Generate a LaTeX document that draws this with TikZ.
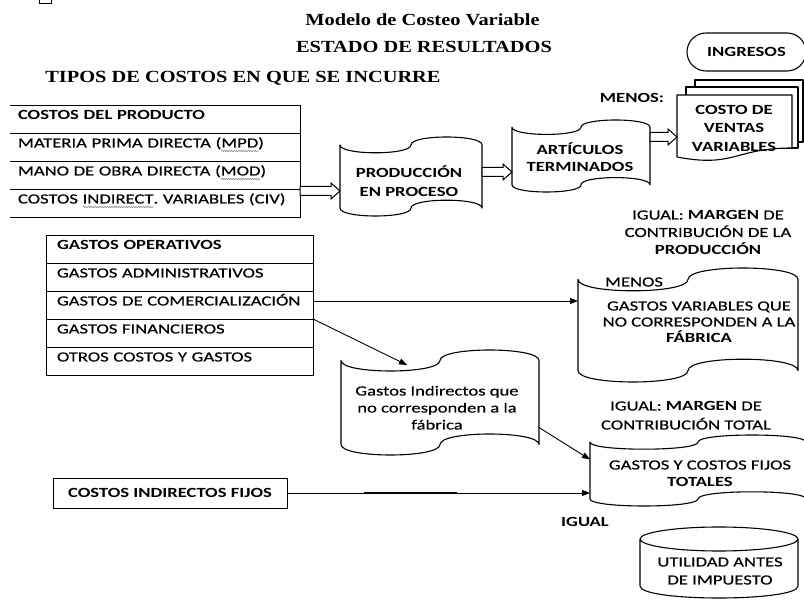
\documentclass[tikz,border=0pt]{standalone}
\usepackage{fontspec}
\setmainfont{Carlito}[FakeStretch=1.33,UprightFeatures={FakeBold=0.4}]
\newfontfamily\headfont{Liberation Serif}[FakeStretch=1.2]
\usetikzlibrary{arrows.meta,calc,decorations.pathmorphing}
\frenchspacing

\tikzset{
  squigline/.style={line width=0.5pt,gray,decorate,
    decoration={snake,amplitude=0.7pt,segment length=2.4pt}}
}

% wavy spell-check underline under a word
\newsavebox\sqbox
\newcommand\squig[1]{\sbox\sqbox{#1}\usebox\sqbox\llap{\tikz[overlay,baseline=0pt,x=1pt,y=1pt]\draw[squigline] (0pt,-3.5pt) -- (\the\wd\sqbox,-3.5pt);\hspace*{\wd\sqbox}}}

\newcommand\fs[1]{\fontsize{14}{#1}\selectfont}

% punched-tape outline around a named frame node
\newcommand\tapeframe[1]{%
  \draw[outline] let \p1=(#1.north west), \p2=(#1.south east),
      \n1={0.5*(\x1+\x2)}, \n2={0.1*(\y1-\y2)}, \n3={0.1333*(\y1-\y2)} in
    (\x1,{\y1-\n2*1pt})
      .. controls (\x1,{\y1-\n2*1pt-\n3*1pt}) and ({\n1*1pt},{\y1-\n2*1pt-\n3*1pt}) .. ({\n1*1pt},{\y1-\n2*1pt})
      .. controls ({\n1*1pt},{\y1-\n2*1pt+\n3*1pt}) and (\x2,{\y1-\n2*1pt+\n3*1pt}) .. (\x2,{\y1-\n2*1pt})
    -- (\x2,{\y2+\n2*1pt})
      .. controls (\x2,{\y2+\n2*1pt+\n3*1pt}) and ({\n1*1pt},{\y2+\n2*1pt+\n3*1pt}) .. ({\n1*1pt},{\y2+\n2*1pt})
      .. controls ({\n1*1pt},{\y2+\n2*1pt-\n3*1pt}) and (\x1,{\y2+\n2*1pt-\n3*1pt}) .. (\x1,{\y2+\n2*1pt})
    -- cycle;}

% block arrow from the x of #1 to the point #2
\newcommand\hollowarrow[2]{%
  \draw[hollow] let \p1=#1, \p2=#2 in
    (\x1,{\y2+4.5pt}) -- ({\x2-9pt},{\y2+4.5pt}) -- ({\x2-9pt},{\y2+8pt}) -- (\x2,\y2)
    -- ({\x2-9pt},{\y2-8pt}) -- ({\x2-9pt},{\y2-4.5pt}) -- (\x1,{\y2-4.5pt}) -- cycle;}

\begin{document}
\begin{tikzpicture}[x=1pt,y=-1pt,
  outline/.style={line width=1.1pt,line join=round},
  tline/.style={line width=0.9pt},
  hollow/.style={line width=1pt,line join=miter,fill=white},
  arr/.style={line width=0.9pt,-{Triangle[length=8pt,width=6pt]}},
  frame/.style={draw=none,inner sep=0pt,outer sep=0pt},
  title/.style={font=\headfont\bfseries\fontsize{17}{20}\selectfont,inner sep=0pt,anchor=base},
  txt/.style={align=center,inner sep=0pt,anchor=base},
  row1/.style={anchor=north west,text width=274pt,inner xsep=8pt,inner ysep=0pt,outer sep=0pt,
    minimum height=28pt,text height=9pt,text depth=8pt,align=left,font=\fs{17}},
  row2/.style={row1,draw,tline,text width=245pt,inner xsep=11pt}]

\fill[white] (0,0) rectangle (804,601);
\useasboundingbox (0,0) rectangle (804,601);

% small mark in the corner
\draw[line width=0.8pt] (39,0) -- (39,3.5) -- (51,3.5) -- (51,0);

% headings
\node[title] (t1) at (422.5,25.5) {Modelo de Costeo Variable};
\node[title] (t2) at (424,52.5) {ESTADO DE RESULTADOS};
\node[title] (t3) at (243,82.5) {TIPOS DE COSTOS EN QUE SE INCURRE};

% product costs
\node[row1] (p0) at (10,105) {\mbox{\bfseries COSTOS DEL PRODUCTO}};
\node[row1] (p1) at (p0.south west) {\mbox{MATERIA PRIMA DIRECTA (\squig{MPD})}};
\node[row1] (p2) at (p1.south west) {\mbox{MANO DE OBRA DIRECTA (\squig{MOD})}};
\node[row1] (p3) at (p2.south west) {\mbox{COSTOS \squig{INDIRECT}. VARIABLES (CIV)}};
\draw[tline] (p0.north west) -- (p0.north east) -- (p3.south east) -- (p3.south west);
\foreach \r in {p0,p1,p2} \draw[tline] (\r.south west) -- (\r.south east);

% operating expenses
\node[row2] (g0) at (46,235) {\mbox{\bfseries GASTOS OPERATIVOS}};
\node[row2] (g1) at (g0.south west) {\mbox{GASTOS ADMINISTRATIVOS}};
\node[row2] (g2) at (g1.south west) {\mbox{GASTOS DE COMERCIALIZACIÓN}};
\node[row2] (g3) at (g2.south west) {\mbox{GASTOS FINANCIEROS}};
\node[row2] (g4) at (g3.south west) {\mbox{OTROS COSTOS Y GASTOS}};

% fixed overhead
\node[draw,tline,inner sep=0pt,outer sep=0pt,minimum width=234pt,minimum height=30pt,
  font=\bfseries\fs{17}] (cif) at (170,493) {COSTOS INDIRECTOS FIJOS};

% flowchart frames
\node[frame,minimum width=142pt,minimum height=79pt] (prod) at (411,176.5) {};
\node[frame,minimum width=138pt,minimum height=72pt] (art) at (581,156) {};
\node[frame,minimum width=115pt,minimum height=66pt] (cv) at (734.5,128) {};
\node[frame,minimum width=220pt,minimum height=114pt] (gv) at (688,325) {};
\node[frame,minimum width=198pt,minimum height=105pt] (gi) at (440,402.5) {};
\node[frame,minimum width=216pt,minimum height=71pt] (gf) at (698,470.5) {};
\node[frame,minimum width=158pt,minimum height=71pt] (util) at (719,562.5) {};

\tapeframe{prod}
\tapeframe{art}
\tapeframe{gv}
\tapeframe{gi}
\tapeframe{gf}

% stacked documents
\draw[outline,fill=white] let \p1=(cv.north west), \p2=(cv.south east) in
  ({\x1+18pt},{\y1+15pt}) rectangle ({\x2+11pt},{\y1-47pt});
\draw[outline,fill=white] let \p1=(cv.north west), \p2=(cv.south east) in
  ({\x1+9pt},{\y1+8pt}) rectangle ({\x2+6pt},{\y1-53pt});
\draw[outline,fill=white] let \p1=(cv.north west), \p2=(cv.south east), \n1={0.5*(\x1+\x2)} in
  (\x1,\y1) -- (\x2,\y1) -- (\x2,{\y1-53pt})
  .. controls ({\n1*1pt},{\y1-53pt}) and ({\n1*1pt},{\y1-73pt}) .. (\x1,{\y1-62pt}) -- cycle;

% result cylinder
\draw[outline] let \p1=(util.north west), \p2=(util.south east),
    \n1={0.5*(\x1+\x2)}, \n2={0.5*(\x2-\x1)} in
  ({\n1*1pt},{\y1-12pt}) ellipse [x radius={\n2*1pt}, y radius=12pt]
  (\x1,{\y1-12pt}) -- (\x1,{\y2+12pt})
  .. controls (\x1,{\y2-4pt}) and (\x2,{\y2-4pt}) .. (\x2,{\y2+12pt}) -- (\x2,{\y1-12pt});

% revenue terminator
\node[draw,outline,rounded corners=19pt,inner sep=0pt,minimum width=119pt,minimum height=38pt,
  font=\bfseries\fs{17}] (ing) at (746.5,52) {INGRESOS};

% block arrows
\hollowarrow{(p3.east)}{($(prod.west)+(0,14.5)$)}
\hollowarrow{(prod.east)}{($(art.west)+(0,16)$)}
\hollowarrow{(art.east)}{($(cv.west)+(0,9)$)}

% connectors
\coordinate (s1) at ($(g2.east)+(0,-4)$);
\draw[arr] (s1) -- (s1 -| gv.west);
\coordinate (gitop) at ($(gi.north west)+(66,15)$);
\draw[arr] (g2.south east) -- (gitop);
\draw[arr] ($(gi.east)+(0,25)$) -- ($(gf.west)+(0,-11)$);
\draw[arr] (cif.east) -- (cif.east -| gf.west);
\draw[line width=2.4pt] ($(cif.east)+(77,0)$) -- ($(cif.east)+(170,0)$);

% labels (base = baseline of the last line)
\node[txt,font=\bfseries\fs{17}] (menosA) at (632,102.5) {MENOS:};
\node[txt,font=\bfseries\fs{18.5}] (cvt) at (734,151.5) {COSTO DE\\VENTAS\\VARIABLES};
\node[txt,font=\bfseries\fs{19}] (prodt) at (409,196.5) {PRODUCCIÓN\\EN PROCESO};
\node[txt,font=\bfseries\fs{17}] (artt) at (580,172) {ARTÍCULOS\\TERMINADOS};
\node[txt,font=\fs{17.5}] (ig1) at (708,254.5) {IGUAL: \textbf{MARGEN} DE\\CONTRIBUCIÓN DE LA\\\textbf{PRODUCCIÓN}};
\node[txt,font=\fs{17}] (menosB) at (634,286.5) {MENOS};
\node[txt,font=\fs{16}] (gvt) at (699,342.5) {GASTOS VARIABLES QUE\\NO CORRESPONDEN A LA\\\textbf{FÁBRICA}};
\node[txt,font=\fs{17}] (git) at (437,429.5) {Gastos Indirectos que\\no corresponden a la\\fábrica};
\node[txt,font=\fs{19}] (ig2) at (686,429.5) {IGUAL: \textbf{MARGEN} DE\\CONTRIBUCIÓN TOTAL};
\node[txt,font=\fs{17}] (gft) at (700,486.5) {GASTOS Y COSTOS FIJOS\\\textbf{TOTALES}};
\node[txt,font=\bfseries\fs{17}] (ig3) at (585,526.5) {IGUAL};
\node[txt,font=\fs{18}] (utt) at (720,584.5) {UTILIDAD ANTES\\DE IMPUESTO};

\end{tikzpicture}
\end{document}
